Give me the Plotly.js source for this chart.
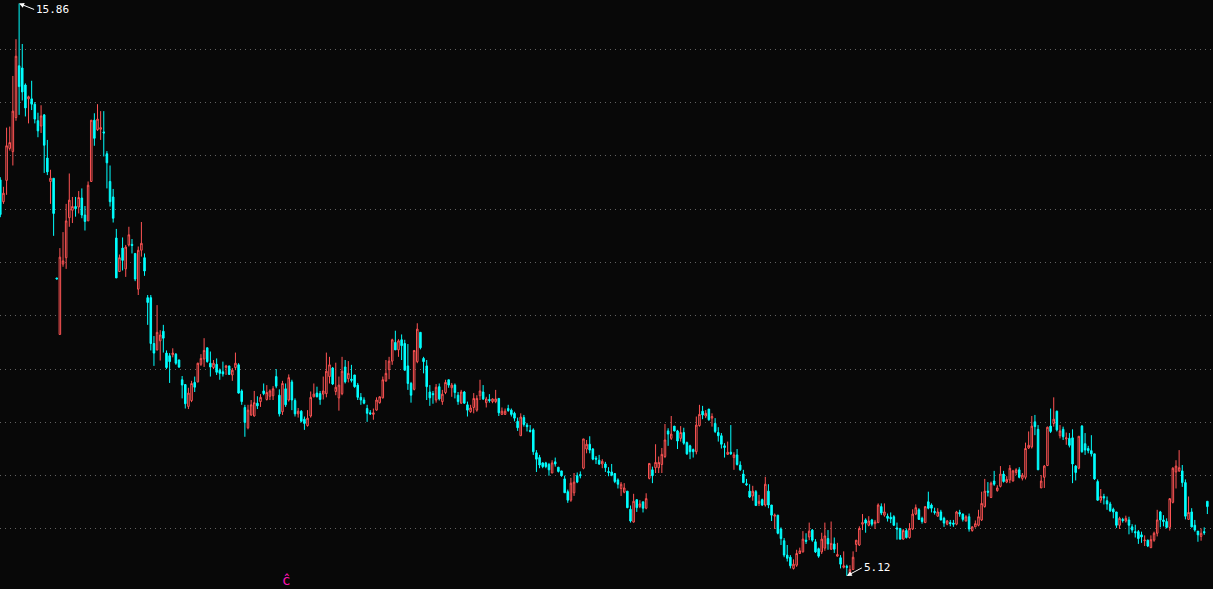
<!DOCTYPE html>
<html>
<head>
<meta charset="utf-8">
<script src="https://cdn.plot.ly/plotly-3.0.1.min.js"></script>
<style>
html,body{margin:0;padding:0;background:#080808;overflow:hidden;}
#chart{width:1213px;height:589px;}
</style>
</head>
<body>
<div id="chart"></div>
<script>
const openPrices = [12.55,12.14,12.54,13.14,13.08,13.72,14.69,14.65,14.33,14.07,
14.07,13.97,13.66,13.56,13.77,12.96,12.52,12.58,10.71,9.65,
10.97,11.09,11.84,11.98,12.05,12.04,12.21,11.89,11.78,12.52,
13.67,13.49,13.50,13.45,13.04,12.52,12.23,11.46,10.83,11.27,
10.88,11.33,11.34,11.17,10.50,11.23,11.09,10.34,10.34,9.48,
9.36,9.53,9.71,9.30,9.25,9.27,9.28,9.17,8.80,8.71,
8.30,8.41,8.75,8.76,9.09,9.19,9.40,9.11,9.03,9.09,
8.98,8.95,9.03,9.06,8.89,9.03,9.08,8.59,8.28,7.90,
8.14,8.12,8.36,8.39,8.59,8.43,8.49,8.50,8.86,8.51,
8.20,8.63,8.42,8.76,8.41,8.16,8.21,8.06,7.94,8.12,
8.48,8.55,8.54,8.53,8.54,8.86,9.02,8.58,8.46,8.54,
9.04,8.82,8.81,8.89,8.70,8.47,8.42,8.26,8.18,8.15,
8.23,8.37,8.46,8.78,8.99,9.15,9.50,9.36,9.55,9.48,
9.06,8.73,8.62,9.14,9.69,9.20,9.06,8.57,8.54,8.42,
8.67,8.39,8.56,8.80,8.65,8.70,8.51,8.36,8.57,8.33,
8.20,8.28,8.23,8.50,8.57,8.37,8.43,8.39,8.39,8.45,
8.15,8.15,8.26,8.23,8.17,8.02,7.75,8.09,7.95,7.85,
7.86,7.43,7.34,7.24,7.24,7.21,7.05,7.26,7.16,7.09,
6.94,6.70,6.54,6.68,7.00,7.02,7.14,7.50,7.59,7.50,
7.33,7.29,7.22,7.22,7.08,7.07,7.04,6.92,6.76,6.69,
6.71,6.37,6.13,6.55,6.42,6.51,6.39,6.95,7.11,7.15,
7.15,7.21,7.36,7.84,7.70,7.93,7.84,7.70,7.81,7.62,
7.56,7.49,7.45,7.94,8.21,8.12,8.25,8.08,7.98,7.81,
7.75,7.56,7.40,7.44,7.34,7.39,7.20,7.03,6.85,6.71,
6.62,6.70,6.48,6.55,6.45,6.71,6.45,6.24,6.26,6.00,
5.78,5.51,5.47,5.26,5.32,5.54,5.57,5.79,5.85,5.98,
5.76,5.63,5.57,5.64,5.82,5.62,5.72,5.49,5.46,5.28,
5.30,5.17,5.24,5.71,5.70,6.09,6.17,6.07,6.17,6.10,
6.12,6.42,6.26,6.24,6.22,6.23,6.02,6.01,5.81,5.97,
5.84,6.00,6.28,6.36,6.20,6.12,6.51,6.45,6.33,6.24,
6.32,6.20,6.09,6.12,6.11,6.09,6.31,6.28,6.15,6.23,
5.97,6.04,6.07,6.17,6.42,6.71,6.59,6.90,6.72,6.80,
7.03,6.88,6.92,6.90,7.06,7.11,6.95,6.97,7.52,7.54,
8.01,7.87,6.77,6.97,7.19,7.93,7.98,8.21,7.75,7.87,
7.69,7.70,7.71,7.18,7.14,7.93,7.60,7.51,7.47,7.41,
6.89,6.54,6.61,6.53,6.47,6.37,6.32,6.07,6.18,6.15,
6.17,6.04,5.95,5.95,5.89,5.78,5.79,5.65,5.79,5.92,
6.32,6.17,6.14,6.03,6.50,7.07,7.09,7.09,6.87,6.18,
6.32,6.07,5.96,5.86,5.95,6.52];

const highPrices = [12.60,12.42,13.53,13.55,14.50,15.19,15.86,15.10,14.36,14.13,
14.41,14.01,13.81,13.95,13.78,13.30,12.74,12.58,10.71,11.27,
11.57,12.10,12.67,12.23,12.23,12.34,12.39,12.06,12.52,13.67,
13.80,13.97,13.84,13.84,13.09,12.82,12.38,11.63,11.15,11.47,
11.33,11.67,11.44,11.17,11.30,11.76,11.17,10.39,10.39,9.62,
10.20,9.73,9.83,9.35,9.30,9.39,9.30,9.18,8.87,8.71,
8.65,8.78,8.86,9.12,9.28,9.58,9.40,9.33,9.17,9.20,
9.01,9.14,9.08,9.06,9.02,9.31,9.11,8.62,8.33,8.33,
8.42,8.59,8.49,8.53,8.73,8.70,8.62,8.68,9.00,8.62,
8.78,8.73,8.90,8.80,8.45,8.27,8.23,8.11,8.23,8.58,
8.73,8.67,8.59,8.86,9.31,9.23,9.04,9.12,8.86,9.23,
9.17,9.15,9.08,8.89,8.74,8.55,8.47,8.33,8.23,8.26,
8.47,8.49,8.86,9.17,9.23,9.57,9.72,9.56,9.65,9.55,
9.47,8.76,9.35,9.86,9.69,9.23,9.17,8.70,8.59,8.72,
8.73,8.61,8.80,8.80,8.74,8.73,8.57,8.61,8.59,8.39,
8.33,8.55,8.51,8.80,8.70,8.48,8.53,8.45,8.61,8.45,
8.28,8.26,8.33,8.26,8.20,8.09,8.17,8.14,7.99,7.95,
7.89,7.48,7.39,7.25,7.26,7.24,7.29,7.34,7.16,7.09,
7.00,6.74,6.96,7.05,7.06,7.08,7.69,7.67,7.74,7.52,
7.37,7.39,7.31,7.26,7.16,7.22,7.04,6.95,6.88,6.86,
6.71,6.44,6.66,6.55,6.54,6.51,6.67,7.23,7.17,7.59,
7.36,7.52,7.97,7.89,8.12,7.93,7.86,7.93,7.90,7.64,
7.58,7.51,8.11,8.33,8.31,8.23,8.25,8.17,8.08,7.91,
7.80,7.61,7.64,7.95,7.44,7.50,7.27,7.11,6.94,6.84,
6.81,6.73,6.64,6.57,6.98,6.84,6.45,6.29,6.26,6.03,
5.83,5.70,5.51,5.43,5.61,5.65,5.96,5.92,6.12,6.00,
5.81,5.65,5.93,6.12,5.98,6.14,5.84,5.74,5.51,5.58,
5.33,5.32,5.58,5.79,6.05,6.28,6.20,6.24,6.19,6.17,
6.48,6.48,6.48,6.29,6.31,6.26,6.12,6.02,6.00,6.01,
6.11,6.37,6.46,6.39,6.23,6.42,6.70,6.48,6.40,6.39,
6.36,6.23,6.17,6.17,6.17,6.34,6.36,6.29,6.26,6.29,
6.05,6.16,6.36,6.70,6.94,6.88,6.89,7.09,6.82,7.18,
7.09,6.99,7.20,7.11,7.14,7.16,7.05,7.62,7.83,8.12,
8.14,7.95,7.01,7.20,7.92,8.26,8.47,8.22,7.95,7.92,
7.81,7.80,7.87,7.20,7.74,7.95,7.80,7.56,7.76,7.41,
6.93,6.75,6.66,6.61,6.51,6.40,6.32,6.23,6.21,6.25,
6.23,6.09,6.08,5.98,5.95,5.88,5.80,5.88,5.95,6.36,
6.34,6.26,6.20,6.57,7.16,7.29,7.48,7.20,6.93,6.61,
6.39,6.17,5.96,6.01,6.03,6.52];

const lowPrices = [11.85,12.10,12.27,13.10,12.82,13.66,13.77,14.04,13.74,13.61,
13.86,13.61,13.35,13.43,12.68,12.64,12.10,11.50,10.69,9.65,
10.92,10.88,11.67,11.74,11.86,11.92,11.83,11.60,11.78,12.52,
13.19,13.47,13.30,12.99,12.39,12.05,11.75,10.71,10.83,10.85,
10.73,11.30,11.17,10.65,10.39,11.11,10.75,9.83,9.35,9.06,
9.35,9.16,9.31,9.00,8.74,9.22,9.08,9.02,8.45,8.26,
8.25,8.38,8.57,8.75,9.06,9.04,9.12,8.86,9.00,8.89,
8.80,8.86,8.89,8.89,8.78,8.98,8.54,8.33,7.73,7.87,
8.12,8.11,8.25,8.29,8.51,8.41,8.42,8.42,8.64,8.11,
8.14,8.29,8.39,8.23,8.11,8.09,8.00,7.86,7.92,8.09,
8.47,8.47,8.33,8.43,8.47,8.73,8.70,8.51,8.22,8.51,
8.73,8.75,8.75,8.65,8.42,8.33,8.34,8.01,8.14,8.05,
8.22,8.35,8.45,8.76,8.81,9.08,9.36,9.23,9.17,8.97,
8.61,8.37,8.60,9.11,9.37,8.92,8.42,8.31,8.35,8.37,
8.41,8.33,8.53,8.65,8.48,8.45,8.33,8.35,8.35,8.11,
8.18,8.17,8.20,8.42,8.42,8.28,8.37,8.36,8.36,8.12,
8.14,8.14,8.20,8.11,8.02,7.84,7.75,7.92,7.83,7.81,
7.39,7.07,7.14,7.14,7.14,7.00,7.05,7.17,7.06,6.98,
6.68,6.49,6.51,6.62,6.86,6.95,7.12,7.42,7.42,7.29,
7.22,7.20,7.14,7.07,6.99,6.99,6.86,6.76,6.62,6.67,
6.39,6.12,6.12,6.32,6.39,6.31,6.37,6.93,6.86,7.05,
7.05,7.05,7.33,7.56,7.67,7.83,7.50,7.64,7.58,7.39,
7.31,7.34,7.40,7.92,8.06,8.08,8.03,7.92,7.80,7.64,
7.51,7.34,7.39,7.39,7.11,7.19,7.09,6.86,6.81,6.58,
6.53,6.43,6.43,6.43,6.42,6.39,6.15,6.00,5.90,5.70,
5.47,5.39,5.26,5.24,5.29,5.53,5.56,5.72,5.79,5.76,
5.55,5.46,5.53,5.59,5.61,5.61,5.55,5.48,5.26,5.26,
5.12,5.16,5.23,5.57,5.68,5.98,5.93,6.05,6.05,6.00,
6.11,6.26,6.23,6.14,6.11,6.06,5.80,5.80,5.80,5.82,
5.82,5.98,6.26,6.17,6.10,6.11,6.37,6.31,6.27,6.23,
6.16,6.04,6.07,6.05,6.04,6.07,6.23,6.14,6.14,5.95,
5.95,6.03,6.05,6.15,6.40,6.61,6.58,6.81,6.70,6.78,
6.87,6.86,6.86,6.89,7.01,6.95,6.91,6.93,7.50,7.51,
7.76,7.11,6.77,6.77,7.18,7.80,7.92,7.83,7.70,7.67,
7.58,7.53,6.86,6.91,7.12,7.43,7.39,7.42,7.36,6.92,
6.53,6.49,6.46,6.36,6.32,6.20,6.02,6.00,6.12,6.12,
5.90,5.93,5.84,5.72,5.74,5.68,5.66,5.64,5.76,5.86,
6.03,6.05,6.01,5.97,6.48,6.76,7.07,6.79,6.18,6.17,
6.03,5.95,5.76,5.78,5.89,6.28];

const closePrices = [11.90,12.30,13.19,13.25,13.84,14.87,14.30,14.20,13.90,14.11,
13.97,13.69,13.47,13.75,13.20,12.70,12.58,11.92,10.69,11.10,
11.03,11.78,12.17,12.05,12.01,12.22,11.89,11.77,12.45,13.67,
13.33,13.69,13.53,13.43,12.87,12.14,11.83,10.71,11.09,11.04,
11.29,11.52,11.32,10.69,11.23,11.36,10.84,10.25,9.48,9.30,
9.69,9.64,9.58,9.03,9.14,9.30,9.11,9.04,8.70,8.35,
8.55,8.73,8.66,9.11,9.20,9.35,9.14,9.04,9.11,8.94,
8.92,8.91,9.06,8.90,8.98,9.11,8.55,8.39,8.00,8.23,
8.33,8.37,8.31,8.47,8.54,8.56,8.59,8.63,8.68,8.16,
8.73,8.33,8.84,8.42,8.16,8.21,8.02,7.98,8.08,8.47,
8.53,8.48,8.43,8.59,8.96,9.08,8.72,8.66,8.70,8.96,
8.76,8.92,8.79,8.67,8.47,8.42,8.36,8.17,8.16,8.18,
8.42,8.48,8.80,8.92,9.15,9.55,9.36,9.53,9.44,8.98,
8.73,8.51,9.35,9.75,9.40,9.14,8.67,8.46,8.52,8.66,
8.44,8.53,8.75,8.70,8.70,8.56,8.39,8.57,8.36,8.23,
8.27,8.45,8.45,8.59,8.44,8.44,8.41,8.44,8.44,8.18,
8.21,8.21,8.22,8.15,8.08,7.90,8.10,7.96,7.92,7.83,
7.45,7.31,7.20,7.17,7.17,7.11,7.24,7.22,7.08,7.00,
6.68,6.54,6.86,6.88,6.88,7.00,7.69,7.59,7.48,7.31,
7.31,7.22,7.27,7.15,7.06,7.01,6.89,6.84,6.84,6.77,
6.40,6.15,6.52,6.40,6.47,6.39,6.57,7.23,7.00,7.25,
7.25,7.40,7.67,7.78,7.78,7.84,7.65,7.81,7.61,7.41,
7.45,7.45,7.95,8.15,8.14,8.17,8.05,8.11,7.83,7.75,
7.59,7.53,7.44,7.41,7.39,7.21,7.11,6.87,6.83,6.60,
6.71,6.44,6.52,6.45,6.84,6.45,6.26,6.26,5.92,5.82,
5.51,5.45,5.31,5.34,5.54,5.59,5.81,5.77,5.96,5.79,
5.57,5.49,5.81,5.87,5.72,5.73,5.62,5.52,5.34,5.31,
5.28,5.24,5.47,5.79,6.01,6.12,6.11,6.15,6.09,6.13,
6.45,6.30,6.32,6.20,6.19,6.07,6.00,5.81,5.97,5.84,
6.01,6.28,6.40,6.18,6.14,6.42,6.39,6.39,6.31,6.32,
6.17,6.11,6.15,6.10,6.09,6.32,6.28,6.18,6.23,6.00,
6.04,6.10,6.23,6.48,6.71,6.69,6.86,6.84,6.77,7.03,
6.89,6.93,7.14,7.09,7.11,6.97,7.01,7.51,7.57,7.93,
7.92,7.11,6.90,7.18,7.91,7.83,8.06,7.86,7.84,7.73,
7.71,7.57,7.22,7.06,7.74,7.45,7.48,7.47,7.41,6.94,
6.54,6.61,6.58,6.47,6.34,6.32,6.07,6.20,6.16,6.20,
6.07,5.98,5.93,5.82,5.85,5.79,5.68,5.80,5.92,6.17,
6.17,6.14,6.03,6.57,7.14,7.18,7.15,6.87,6.24,6.31,
6.04,5.98,5.89,5.92,5.93,6.42];

const gridLevels = [6, 7, 8, 9, 10, 11, 12, 13, 14, 15];
const highLabel = "15.86";
const lowLabel = "5.12";
const markText = "ĉ";

const xIdx = openPrices.map((_, i) => i);

// locate extremes from the data
let hiIdx = 0, loIdx = 0;
highPrices.forEach((v, i) => { if (v > highPrices[hiIdx]) hiIdx = i; });
lowPrices.forEach((v, i) => { if (v < lowPrices[loIdx]) loIdx = i; });

const bg = '#080808';
const trace = {
  type: 'candlestick',
  x: xIdx,
  open: openPrices,
  high: highPrices,
  low: lowPrices,
  close: closePrices,
  increasing: {line: {color: '#ff5454', width: 1}, fillcolor: bg},
  decreasing: {line: {color: '#00ffff', width: 1}, fillcolor: '#00ffff'},
  whiskerwidth: 0,
  hoverinfo: 'skip'
};

const layout = {
  width: 1213,
  height: 589,
  margin: {l: 0, r: 0, t: 0, b: 0, pad: 0},
  paper_bgcolor: bg,
  plot_bgcolor: bg,
  showlegend: false,
  xaxis: {
    range: [-0.1, 386.8],
    showgrid: false, zeroline: false, showticklabels: false, showline: false,
    ticks: '', rangeslider: {visible: false}, fixedrange: true
  },
  yaxis: {
    range: [4.874, 15.925],
    tickvals: gridLevels,
    showticklabels: false, ticks: '',
    showgrid: true, gridcolor: '#626262', gridwidth: 1, griddash: '1px,4px',
    zeroline: false, showline: false, fixedrange: true
  },
  annotations: [
    {
      x: hiIdx, y: highPrices[hiIdx], xref: 'x', yref: 'y',
      text: highLabel, showarrow: true, arrowhead: 2, arrowsize: 1, arrowwidth: 1,
      arrowcolor: '#ffffff', ax: 15, ay: 6, xanchor: 'left', yanchor: 'middle',
      standoff: 0, startstandoff: 0,
      font: {family: 'DejaVu Sans Mono, monospace', size: 11, color: '#ffffff'}
    },
    {
      x: loIdx, y: lowPrices[loIdx], xref: 'x', yref: 'y',
      text: lowLabel, showarrow: true, arrowhead: 2, arrowsize: 1, arrowwidth: 1,
      arrowcolor: '#ffffff', ax: 15, ay: -8, xanchor: 'left', yanchor: 'middle',
      standoff: 0, startstandoff: 0,
      font: {family: 'DejaVu Sans Mono, monospace', size: 11, color: '#ffffff'}
    },
    {
      x: 285.5 / 1213, y: 0, xref: 'paper', yref: 'paper',
      text: markText, showarrow: false, xanchor: 'center', yanchor: 'bottom',
      borderpad: 0,
      font: {family: 'DejaVu Sans Mono, monospace', size: 14, color: '#ff14b4'}
    }
  ]
};

Plotly.newPlot('chart', [trace], layout, {staticPlot: true, displayModeBar: false});
</script>
</body>
</html>
